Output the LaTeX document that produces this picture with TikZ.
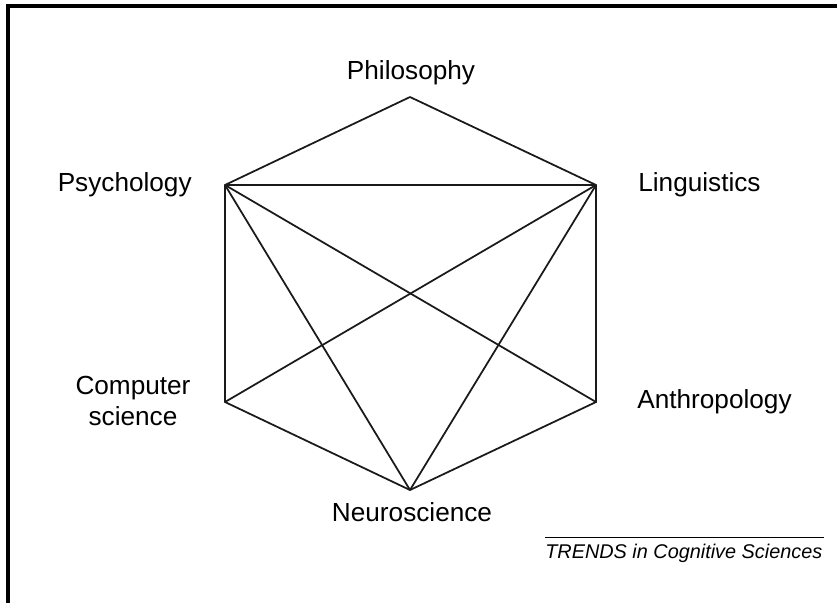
\documentclass[tikz,border=0pt]{standalone}
\usepackage{fontspec}
\setmainfont{Liberation Sans}
\usepackage{xcolor}
\usepackage{tikz}
\definecolor{CSLine}{HTML}{1A1A1A}

\begin{document}
\begin{tikzpicture}[x=0.02cm,y=-0.02cm,
  field/.style={font=\fontsize{14.9}{17.5}\selectfont,inner sep=0pt},
  link/.style={CSLine,line width=1pt}]
\path[use as bounding box] (0,0) rectangle (837,603);
\draw[black,line width=1.8pt] (8,603) -- (8,6) -- (837,6);
% vertices of the hexagon
\coordinate (phil) at (410,97);
\coordinate (psy) at (225,185);
\coordinate (ling) at (596,185);
\coordinate (cs) at (225,402);
\coordinate (anth) at (596,402);
\coordinate (neuro) at (410,490);
% outer ring
\draw[link] (phil) -- (psy) -- (cs) -- (neuro) -- (anth) -- (ling) -- (phil);
% inner links
\draw[link] (psy) -- (ling);
\draw[link] (psy) -- (neuro);
\draw[link] (psy) -- (anth);
\draw[link] (ling) -- (cs);
\draw[link] (ling) -- (neuro);
% labels
\node[field,anchor=center] (lphil) at (411,73) {Philosophy};
\node[field,anchor=east] (lpsy) at (192,185) {Psychology};
\node[field,anchor=west] (lling) at (638,185) {Linguistics};
\node[field,anchor=center,align=center] (lcs) at (133,401) {Computer\\science};
\node[field,anchor=west] (lanth) at (637,402) {Anthropology};
\node[field,anchor=center] (lneuro) at (412,512) {Neuroscience};
\node[font=\fontsize{11.3}{13}\selectfont\itshape,anchor=west,inner sep=0pt] (trends) at (545,553) {TRENDS in Cognitive Sciences};
\draw[black,line width=0.8pt] (trends.north west) ++(0,-6) coordinate (rl) -- (rl -| 824,0);
\end{tikzpicture}
\end{document}
